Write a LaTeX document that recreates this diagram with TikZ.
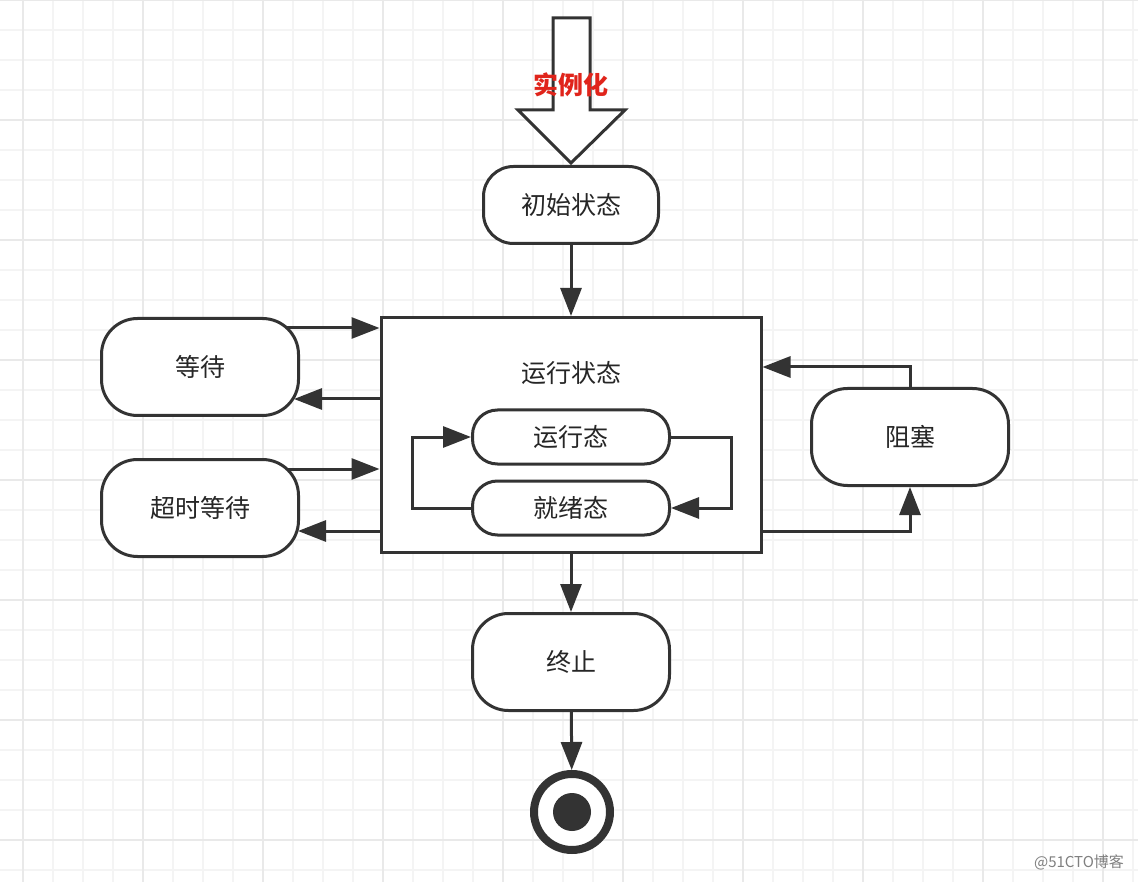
\documentclass[tikz,border=0pt]{standalone}
\usepackage{fontspec}
\setmainfont{Noto Sans CJK SC}
\usetikzlibrary{calc,positioning,arrows.meta}
\definecolor{gridminor}{HTML}{F4F4F4}
\definecolor{gridmajor}{HTML}{E9E9E9}
\definecolor{inkgray}{HTML}{333333}
\definecolor{labelred}{HTML}{E0241B}

\begin{document}
\begin{tikzpicture}[x=1pt,y=-1pt]
\tikzstyle{state}=[rectangle, draw=inkgray, line width=3pt, fill=white, rounded corners=36pt, minimum width=197pt, minimum height=97pt, inner sep=0pt, text=black!85, font=\fontsize{25}{30}\selectfont]
\tikzstyle{substate}=[state, rounded corners=25pt, minimum height=54pt]
\tikzstyle{arr}=[draw=inkgray, line width=3pt, -{Triangle[length=28pt,width=21pt]}]

\useasboundingbox (0,0) rectangle (1138,882);
\fill[white] (0,0) rectangle (1138,882);
% grid
\foreach \x in {23,53,...,1133}{\draw[gridminor, line width=1.2pt] (\x,0) -- (\x,882);}
\foreach \y in {0,30,...,870}{\draw[gridminor, line width=1.2pt] (0,\y) -- (1138,\y);}
\foreach \x in {23,143,...,1103}{\draw[gridmajor, line width=1.4pt] (\x,0) -- (\x,882);}
\foreach \y in {0,120,...,840}{\draw[gridmajor, line width=1.4pt] (0,\y) -- (1138,\y);}

% instantiation arrow
\draw[inkgray, line width=3pt, fill=white] (553,18) -- (590,18) -- (590,110) -- (625,110) -- (571,163) -- (518,110) -- (553,110) -- cycle;
\node[text=labelred, font=\fontsize{25}{30}\selectfont\bfseries] (inst) at (571,85) {实例化};

\node[state, rounded corners=30pt, minimum width=175pt, minimum height=77pt] (init) at (571,205) {初始状态};
\node[draw=inkgray, line width=3pt, fill=white, minimum width=380pt, minimum height=235pt] (box) at (571,435) {};
\node[text=black!85, font=\fontsize{25}{30}\selectfont] (boxtitle) at (571,373) {运行状态};
\node[substate] (run) at (571,437) {运行态};
\node[substate] (ready) at (571,508) {就绪态};
\node[state] (wait) at (200,367) {等待};
\node[state] (timed) at (200,508) {超时等待};
\node[state] (block) at (910,437) {阻塞};
\node[state] (term) at (571,662) {终止};
\node[circle, draw=inkgray, line width=8pt, fill=white, minimum size=76pt, inner sep=0pt] (final) at (572,812) {};
\node[circle, fill=inkgray, minimum size=38pt, inner sep=0pt] (finaldot) at (final) {};

\coordinate (waitout) at (287,328);
\coordinate (waitin) at (294,399);
\coordinate (timedout) at (287,469);
\coordinate (timedin) at (298,531);
\coordinate (blockout) at (910,367);
\coordinate (blockin) at (910,531);

\draw[arr] (init) -- (box);
\draw[arr] (box) -- (term);
\draw[arr] (term) -- (final);
\draw[arr] (ready.west) -- ++(-59,0) |- (run.west);
\draw[arr] (run.east) -- ++(60,0) |- (ready.east);
\draw[arr] (waitout) -- (waitout -| box.west);
\draw[arr] (waitin -| box.west) -- (waitin);
\draw[arr] (timedout) -- (timedout -| box.west);
\draw[arr] (timedin -| box.west) -- (timedin);
\draw[arr] (block.north) |- (blockout -| box.east);
\draw[arr] (blockin -| box.east) -| (block.south);

\node[text=black!50, font=\fontsize{15}{18}\selectfont] (mark) at (1079,862) {@51CTO博客};
\end{tikzpicture}
\end{document}
